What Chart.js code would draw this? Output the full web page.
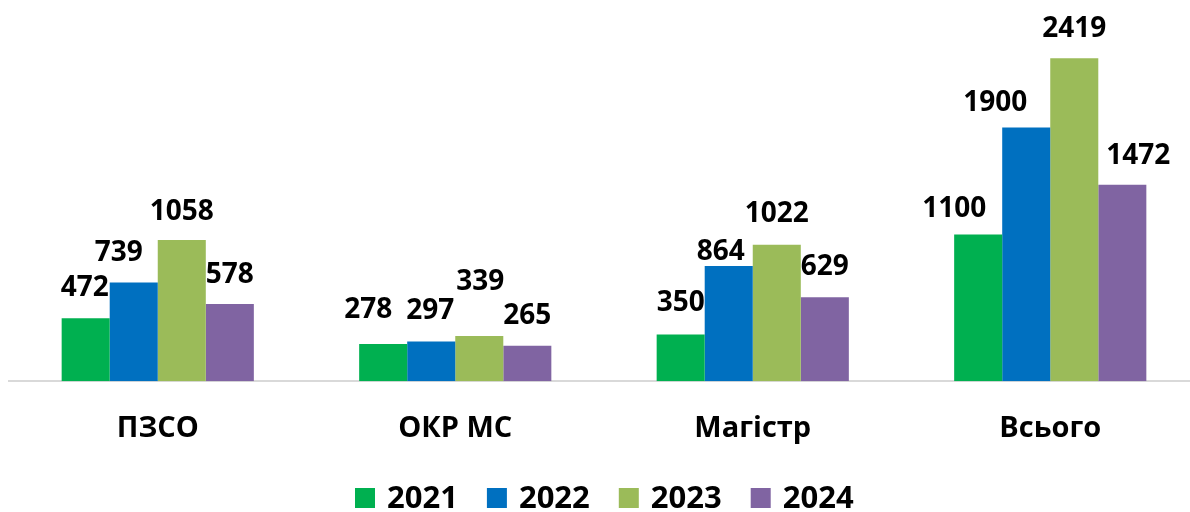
<!DOCTYPE html>
<html>
<head>
<meta charset="utf-8">
<style>
  html, body { margin: 0; padding: 0; background: #fff; overflow: hidden; }
  #wrap { position: relative; width: 1200px; height: 512px; }
</style>
<script src="https://cdn.jsdelivr.net/npm/chart.js@4/dist/chart.umd.min.js"></script>
</head>
<body>
<div id="wrap"><canvas id="c"></canvas></div>
<script>
// ---- data ----
const categories = ['ПЗСО', 'ОКР МС', 'Магістр', 'Всього'];
const seriesNames = ['2021', '2022', '2023', '2024'];
const values2021 = [472, 278, 350, 1100];
const values2022 = [739, 297, 864, 1900];
const values2023 = [1058, 339, 1022, 2419];
const values2024 = [578, 265, 629, 1472];

// ---- style ----
const colors = ['#00B050', '#0070C0', '#9BBB59', '#8064A2'];
const FONT = '"Open Sans", "DejaVu Sans", sans-serif';
// label nudges [dx, dy] per series, per category (manual label placement in the original)
const labelNudge = [
  [[-1, 0], [-15, -4], [0, -1], [-24, 5]],
  [[-15, 0], [-1, -1], [-8, 16], [-31, 5]],
  [[0, 2], [1, -24], [0, -1], [0, 1]],
  [[0, 1], [0, 0], [0, 0], [16, 1]]
];

const valueLabels = {
  id: 'valueLabels',
  afterDatasetsDraw(chart) {
    const ctx = chart.ctx;
    ctx.save();
    ctx.font = 'bold 28px ' + FONT;
    ctx.fillStyle = '#000';
    ctx.textAlign = 'center';
    ctx.textBaseline = 'middle';
    chart.data.datasets.forEach((ds, di) => {
      const meta = chart.getDatasetMeta(di);
      meta.data.forEach((bar, i) => {
        const n = labelNudge[di][i];
        ctx.fillText(String(ds.data[i]), bar.x + n[0], bar.y - 30 + n[1]);
      });
    });
    ctx.restore();
  }
};

const customLegend = {
  id: 'customLegend',
  afterDraw(chart) {
    const ctx = chart.ctx;
    ctx.save();
    ctx.font = 'bold 31px ' + FONT;
    ctx.textBaseline = 'middle';
    ctx.textAlign = 'left';
    const box = 20, gap = 12, spacing = 29, cy = 498;
    const items = chart.data.datasets.map(ds => ({
      label: ds.label, color: ds.backgroundColor,
      w: box + gap + ctx.measureText(ds.label).width
    }));
    let x = 355;
    items.forEach(it => {
      ctx.fillStyle = it.color;
      ctx.fillRect(x, cy - box / 2, box, box);
      ctx.fillStyle = '#000';
      ctx.fillText(it.label, x + box + gap, cy + 1);
      x += it.w + spacing;
    });
    ctx.restore();
  }
};

function build() {
  const seriesValues = [values2021, values2022, values2023, values2024];
  new Chart(document.getElementById('c'), {
    type: 'bar',
    data: {
      labels: categories,
      datasets: seriesNames.map((name, k) => ({
        label: name,
        data: seriesValues[k],
        backgroundColor: colors[k],
        borderWidth: 0,
        barPercentage: 1,
        categoryPercentage: 0.646
      }))
    },
    options: {
      responsive: false,
      animation: false,
      devicePixelRatio: 1,
      layout: { padding: { left: 9, right: 1, top: 0, bottom: 36 } },
      plugins: { legend: { display: false }, tooltip: { enabled: false } },
      scales: {
        x: {
          grid: { display: false, drawTicks: false },
          border: { display: true, color: '#D9D9D9', width: 2 },
          ticks: {
            color: '#000',
            padding: 30,
            font: { family: FONT, size: 29, weight: 'bold' }
          }
        },
        y: {
          display: false,
          min: 0,
          max: 2856
        }
      }
    },
    plugins: [valueLabels, customLegend]
  });
}

const cv = document.getElementById('c');
cv.width = 1200; cv.height = 512;
cv.style.width = '1200px'; cv.style.height = '512px';
Promise.all([
  document.fonts.load('bold 28px "Open Sans"'),
  document.fonts.load('bold 31px "Open Sans"')
]).catch(() => {}).then(build);
</script>
</body>
</html>
